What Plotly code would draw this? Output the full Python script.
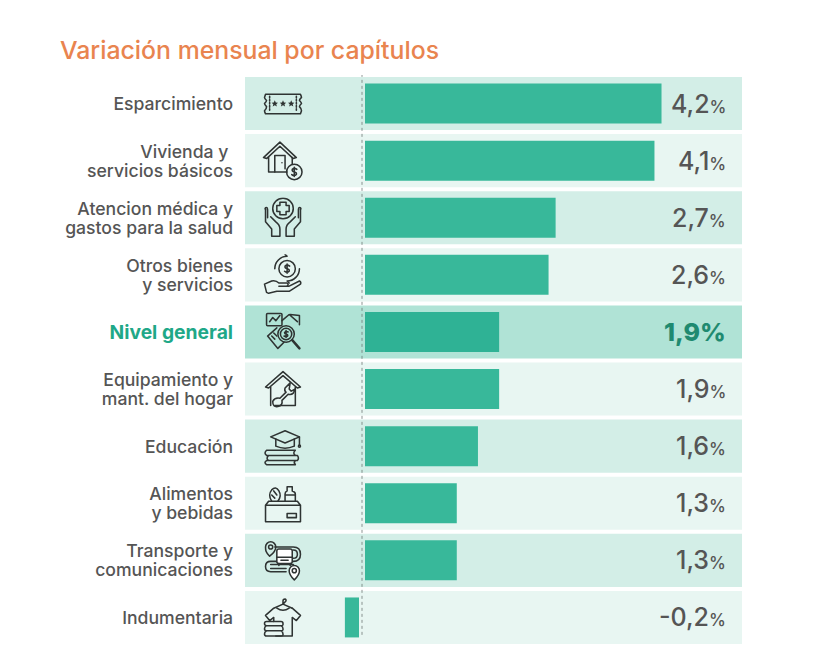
import base64
import plotly.graph_objects as go

categories = ["Esparcimiento", "Vivienda y\u00a0<br>servicios básicos", "Atencion médica y<br>gastos para la salud",
              "Otros bienes<br>y servicios", "<b>Nivel general</b>", "Equipamiento y<br>mant. del hogar",
              "Educación", "Alimentos<br>y bebidas", "Transporte y<br>comunicaciones", "Indumentaria"]
values = [4.2, 4.1, 2.7, 2.6, 1.9, 1.9, 1.6, 1.3, 1.3, -0.2]
value_labels = ["4,2", "4,1", "2,7", "2,6", "1,9", "1,9", "1,6", "1,3", "1,3", "-0,2"]
highlight = 4

W, H = 819, 653
PX0, PX1, PY0, PY1 = 245, 742, 75, 646
ZERO = 362
SCALE = 70.6
GAP = 3 / SCALE
ORANGE = "#E9844F"
TEXT = "#555555"
FONT = "Inter"


def svg(body):
    s = ('<svg xmlns="http://www.w3.org/2000/svg" viewBox="0 0 40 40" width="160" height="160" '
         'fill="none" stroke="#2f3433" stroke-width="1.5" stroke-linecap="round" stroke-linejoin="round">'
         + body + '</svg>')
    return "data:image/svg+xml;base64," + base64.b64encode(s.encode()).decode()


STAR = '<path transform="translate({x} 20) scale(1.2)" fill="#2f3433" stroke="none" d="M0-2.6.8-.8 2.6-.7 1.2.5 1.7 2.4 0 1.3-1.7 2.4-1.2.5-2.6-.7-.8-.8Z"/>'
icons = [
    svg('<path d="M3 11H37Q38 13 38 14Q36 16 36 17Q38 19 38 20Q36 22 36 23Q38 25 38 27L37 30H3Q2 28 2 27Q4 25 4 23Q2 21 2 20Q4 18 4 17Q2 15 2 14Z"/>'
        '<path d="M7 13V28M33 13V28" stroke-dasharray="1.5 1.5"/>' + STAR.format(x=12) + STAR.format(x=20) + STAR.format(x=28)),
    svg('<path d="M1 17 17 2 33 17 30 18 17 6 4 18Z"/><path d="M6 17V31H24M29 17V23"/><path d="M12 31V15H22V28M19 22v.1"/>'
        '<circle cx="31" cy="31" r="7.5"/><path d="M33.5 28.5Q31 26.5 29 28.5Q28.5 30.5 31 31Q33.5 31.5 33 33.5Q31 35.5 28.5 33.5M31 26.5V35.5"/>'),
    svg('<circle cx="20" cy="11" r="10"/><path d="M17 5H23V8H26V14H23V17H17V14H14V8H17Z"/>'
        '<path d="M3 11V24L9 31V38H17V31Q17 27 13 24L8 19"/><path d="M3 12Q2 10 4 10Q5 10 5 12V20"/>'
        '<path d="M37 11V24L31 31V38H23V31Q23 27 27 24L32 19"/><path d="M37 12Q38 10 36 10Q35 10 35 12V20"/>'),
    svg('<circle cx="24" cy="14" r="8"/><path d="M26.500 11.500Q24 9.500 22 11.500Q21.500 13.500 24 14Q26.500 14.500 26 16.500Q24 18.500 21.500 16.500M24 9.500V18.500"/>'
        '<path d="M12 14A12 12 0 0 1 24 2L22 0M36 14A12 12 0 0 1 24 26L26 28"/><path d="M2 29 9 26Q13 25 16 28H24Q26 29 24 31H16L26 31 36 26Q38 27 37 29L26 36H14L6 38 4 37Z"/>'),
    svg('<rect x="4" y="2" width="15" height="12" rx="1"/><path d="M7 10 10 6 13 9 17 4"/><path d="M19 9 26 3 34 10M27 3 36 4 36 13" />'
        '<path d="M5 24 14 16M5 24 15 36 21 30"/><path d="M9 24 12 27M11 21 14 24"/><circle cx="23" cy="22" r="8"/><circle cx="23" cy="22" r="5.5"/>'
        '<path d="M25 20Q23 19 21.500 20.500Q21.500 22 23 22Q25 22.500 24.500 24Q23 25 21 24M23 18.500V25.500"/><path d="M29 28 36 36" stroke-width="2.4"/>'),
    svg('<path d="M3 18 20 3 37 18 34 19 20 7 6 19Z"/><path d="M8 18V36M32 18V36H12"/>'
        '<path d="M27 14 22 19Q21 22 23 23L17 29Q12 28 10 32Q10 38 15 37Q20 36 19 31L25 25Q28 26 30 24L32 20 28 22 26 20Z"/>'),
    svg('<path d="M8 11 22 5 36 11 22 17Z"/><path d="M13 13V20Q22 24 31 20V13M36 11V19"/><circle cx="36" cy="20" r="1"/>'
        '<path d="M4 24H32Q29 27 32 29H4Q1 27 4 24ZM6 29H34Q36 32 34 34H6Q3 32 6 29ZM4 34H32Q30 36 32 38H4Q1 36 4 34Z"/>'),
    svg('<path d="M3 22H37V38H3ZM3 22 6 18H34L37 22"/><rect x="24" y="30" width="9" height="4"/>'
        '<path d="M22 18V11Q22 9 24 8V4H29V8Q32 9 32 11V18M23 12H31"/><path d="M9 18Q5 12 9 7Q13 3 16 8Q19 13 15 18M11 8 14 12M9 12 12 15"/>'),
    svg('<path d="M12 7H30Q37 7 37 14Q37 21 30 21H8Q3 21 3 26Q3 31 8 31H23M30 10Q34 10 34 14Q34 18 30 18M8 24H30M8 28H23"/>'
        '<path d="M7 16C3 12 3 10 3 7A5 5 0 0 1 13 7C13 10 11 13 7 16Z"/><circle cx="8" cy="7" r="2"/>'
        '<rect x="14" y="9" width="15" height="14" rx="2" fill="#fff"/><path d="M14 17H29M18 20H25M16 23V25M27 23V25"/>'
        '<path d="M31 39C27 35 26 33 26 30A5 5 0 0 1 36 30C36 33 35 35 31 39Z" fill="#fff"/><circle cx="31" cy="30" r="2"/>'),
    svg('<path d="M20 7V4Q20 2 22 2Q24 3 22 5L20 7 29 11"/><path d="M20 7 11 11 3 18 7 23 11 20V24M29 11 37 18 33 23 29 20V38H13"/>'
        '<path d="M14 11Q20 15 26 11"/><path d="M4 24H18Q20 24 20 26V27Q20 28 18 28H4Q2 28 2 26T4 24ZM4 28H18Q20 29 20 31V32Q20 33 18 33H4Q2 33 2 31T4 28ZM4 33H18Q20 34 20 36V37Q20 38 18 38H4Q2 38 2 36T4 33Z"/>'),
]


def color_for(i, hi, a, b):
    return hi if i == highlight else (a if i % 2 == 0 else b)


n = len(values)
ypos = list(range(n))
x_of = lambda px: (px - ZERO) / SCALE

fig = go.Figure()
fig.add_trace(go.Bar(
    y=ypos, x=values, orientation="h", width=0.7,
    base=[GAP if v >= 0 else -GAP for v in values],
    marker=dict(color=["#2FB295" if i == highlight else "#38B89A" for i in ypos], line_width=0),
    hoverinfo="skip", showlegend=False,
))

shapes = [dict(type="rect", xref="paper", yref="y", x0=0, x1=1, y0=i - 0.465, y1=i + 0.465,
               fillcolor=color_for(i, "#B0E3D6", "#D3EEE7", "#E8F6F2"), line_width=0, layer="below")
          for i in ypos]
shapes.append(dict(type="line", xref="x", yref="y", x0=0, x1=0, y0=-0.52, y1=9.35,
                   line=dict(color="#6f7a77", width=0.8, dash="dot"), layer="above"))

annotations = []
for i, lab in enumerate(value_labels):
    if i == highlight:
        txt = f'{lab}%'
        col, weight, size = "#1F8A70", 800, 25
    else:
        txt = f'{lab}<span style="font-size:17px">%</span>'
        col, weight, size = TEXT, 500, 25
    annotations.append(dict(xref="x", yref="y", x=x_of(728), y=i, text=txt, xanchor="right", yanchor="middle",
                            showarrow=False, font=dict(family=FONT, size=size, color=col, weight=weight)))

images = [dict(source=src, xref="x", yref="y", x=x_of(283), y=i, sizex=42 / SCALE, sizey=0.72,
               xanchor="center", yanchor="middle", sizing="contain", layer="above")
          for i, src in enumerate(icons)]


def tick_label(i, c):
    style = "color:#1FA888;font-size:19.3px" if i == highlight else "font-size:17.6px"
    return "<br>".join(f'<span style="{style}">{p}</span>' for p in c.split("<br>"))


ticktext = [tick_label(i, c) for i, c in enumerate(categories)]

fig.update_layout(
    width=W, height=H, autosize=False,
    paper_bgcolor="white", plot_bgcolor="white",
    margin=dict(l=PX0, r=W - PX1, t=PY0, b=H - PY1),
    barmode="overlay",
    font=dict(family=FONT, color=TEXT),
    title=dict(text="Variación mensual por capítulos", x=60 / W, xref="container", xanchor="left",
               y=1 - 50 / H, yref="container", yanchor="middle",
               font=dict(family=FONT, size=24.8, color=ORANGE, weight=500)),
    xaxis=dict(range=[x_of(PX0), x_of(PX1)], visible=False, fixedrange=True),
    yaxis=dict(range=[n - 0.5, -0.5], tickmode="array", tickvals=[i + 0.025 for i in ypos], ticktext=ticktext,
               ticks="outside", ticklen=8, tickcolor="rgba(0,0,0,0)", showgrid=False, zeroline=False, showline=False,
               tickfont=dict(family=FONT, size=14.6, color=TEXT, weight=500), fixedrange=True),
    shapes=shapes, annotations=annotations, images=images,
)

fig.write_html("out.html", config={"displayModeBar": False},
               post_script="document.body.style.margin='0';")
